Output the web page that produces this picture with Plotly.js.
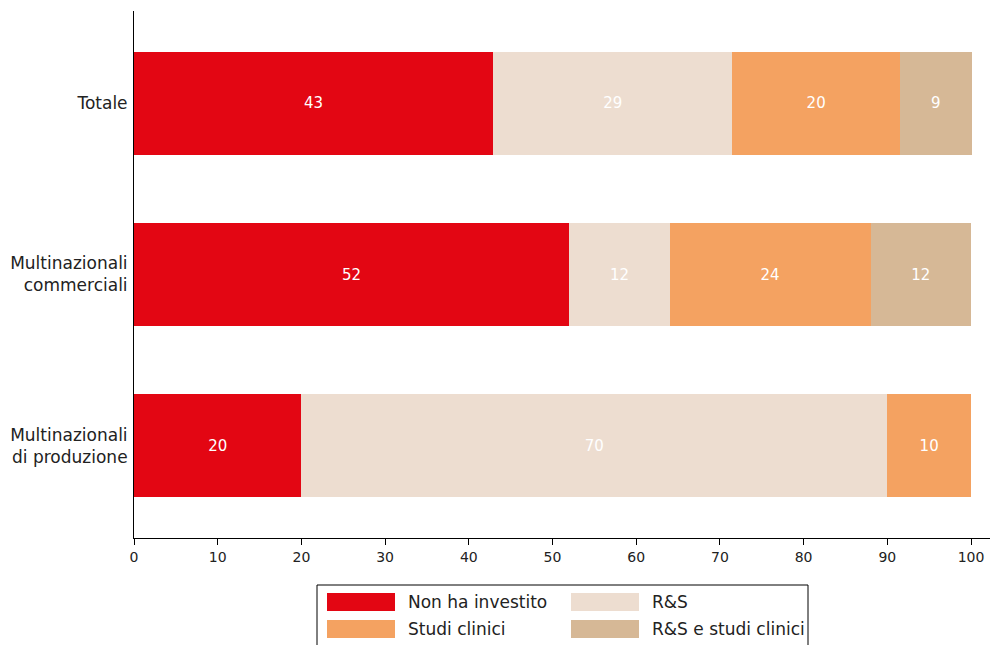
<!DOCTYPE html>
<html>
<head>
<meta charset="utf-8">
<script src="https://cdn.plot.ly/plotly-3.0.1.min.js"></script>
<style>html,body{margin:0;padding:0;background:#fff;}#chart{width:990px;height:645px;}</style>
</head>
<body>
<div id="chart"></div>
<script>
const categories = ["Totale", "Multinazionali<br>commerciali", "Multinazionali<br>di produzione"];
const seriesNames = ["Non ha investito", "R&S", "Studi clinici", "R&S e studi clinici"];
const nonHaInvestito = [42.9, 52, 20];
const rs = [28.6, 12, 70];
const studiClinici = [20.0, 24, 10];
const rsStudiClinici = [8.6, 12, null];
const colors = ["#E30613", "#EDDDD0", "#F4A261", "#D6B896"];
const xTicks = [0, 10, 20, 30, 40, 50, 60, 70, 80, 90, 100];

const W = 990, H = 645;
const L = 134, R = 990, T = 11, B = 538;
const FONT = "DejaVu Sans";

const seriesValues = [nonHaInvestito, rs, studiClinici, rsStudiClinici];
const traces = seriesValues.map((vals, i) => ({
  type: "bar",
  orientation: "h",
  name: seriesNames[i],
  y: categories,
  x: vals,
  marker: {color: colors[i], line: {width: 0}},
  texttemplate: "%{x:.0f}",
  textposition: "inside",
  insidetextanchor: "middle",
  constraintext: "none",
  textfont: {color: "#ffffff", size: 15, family: FONT},
  hoverinfo: "skip",
  showlegend: false
}));

function px(x) { return (x - L) / (R - L); }
function py(y) { return (B - y) / (B - T); }

const shapes = [];
const annotations = [];
// legend box
shapes.push({type: "rect", xref: "paper", yref: "paper",
  x0: px(317), x1: px(808), y0: py(585), y1: py(660),
  line: {color: "#000", width: 1}, fillcolor: "rgba(0,0,0,0)", layer: "above"});
const legPos = [[327, 593], [571, 593], [327, 620], [571, 620]];
const legOrder = [0, 1, 2, 3];
legOrder.forEach((si, k) => {
  const [lx, ly] = legPos[k];
  shapes.push({type: "rect", xref: "paper", yref: "paper",
    x0: px(lx), x1: px(lx + 68), y0: py(ly), y1: py(ly + 18),
    line: {width: 0}, fillcolor: colors[si]});
  annotations.push({xref: "paper", yref: "paper", x: px(lx + 79), y: py(ly + 9),
    xanchor: "left", yanchor: "middle", showarrow: false,
    text: seriesNames[si].replace("&", "&amp;"), font: {family: FONT, size: 17, color: "#222"}});
});

const layout = {
  width: W, height: H,
  margin: {l: L, r: W - R, t: T, b: H - B, pad: 0},
  paper_bgcolor: "#fff", plot_bgcolor: "#fff",
  barmode: "stack",
  bargap: 0.4,
  font: {family: FONT, color: "#222"},
  xaxis: {
    range: [0, 100 * (R - L) / (971 - L)],
    tickvals: xTicks, ticktext: xTicks.map(String),
    ticks: "outside", ticklen: 6, tickcolor: "#000", tickwidth: 1,
    showline: true, linecolor: "#000", linewidth: 1,
    showgrid: false, zeroline: false,
    tickfont: {size: 14, family: FONT, color: "#222"}
  },
  yaxis: {
    type: "category",
    range: [2.54, -0.54],
    showline: true, linecolor: "#000", linewidth: 1,
    ticks: "", showgrid: false, zeroline: false,
    ticklabelstandoff: 2,
    tickfont: {size: 17, family: FONT, color: "#222"}
  },
  shapes: shapes,
  annotations: annotations,
  showlegend: false
};

Plotly.newPlot("chart", traces, layout, {staticPlot: true, displayModeBar: false});
</script>
</body>
</html>
